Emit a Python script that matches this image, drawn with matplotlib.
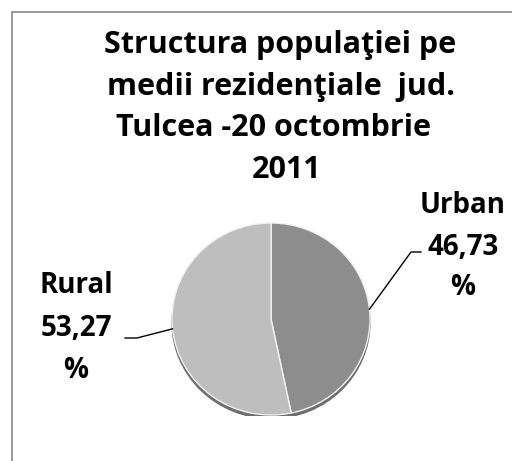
import matplotlib
matplotlib.use("Agg")
import matplotlib.pyplot as plt
from matplotlib.patches import Ellipse, Rectangle
import numpy as np

categories = ["Urban", "Rural"]
values = [46.73, 53.27]
value_labels = ["46,73", "53,27"]
title_lines = ["Structura populaţiei pe", "medii rezidenţiale  jud.",
               "Tulcea -20 octombrie", "2011"]
colors = ["#8d8d8d", "#bebebe"]

W, H = 512, 461
fig = plt.figure(figsize=(W / 100, H / 100), dpi=100)
fig.patch.set_facecolor("white")

def fx(x):
    return x / W

def fy(y):
    return 1 - y / H

FONT = ["Open Sans", "DejaVu Sans"]
FS_TITLE = 22
FS_LABEL = 20

# chart border (left/top visible, extends beyond the picture)
fig.patches.append(Rectangle((fx(11.5), fy(600)), fx(700), (600 - 12.5) / H,
                             transform=fig.transFigure, fill=False,
                             edgecolor="#8a8a8a", linewidth=1.2))

# title
title_x = [280, 281, 274, 287]
title_base = [53, 95, 136, 178]
for line, x, y in zip(title_lines, title_x, title_base):
    fig.text(fx(x), fy(y), line, ha="center", va="baseline",
             fontsize=FS_TITLE, fontweight="bold", family=FONT, color="black")

# pie axes: center (271, 319), x radius 99 px, y radius 96 px
cx, cy = 271, 319
aw, ah = 200, 194
ax = fig.add_axes([fx(cx - aw / 2), fy(cy + ah / 2), aw / W, ah / H])
R = 99

ax.add_patch(Ellipse((0, -3.5), 2 * R, 2 * R, color="#6e6e6e", zorder=0))
wedges, _ = ax.pie(values, colors=colors, startangle=90, counterclock=False,
                   radius=R, center=(0, 0),
                   wedgeprops=dict(edgecolor="#f2f2f2", linewidth=1.0))
for w in wedges:
    w.set_zorder(1)
ax.set_xlim(-100, 100)
ax.set_ylim(-100, 100)
ax.set_aspect("auto")
ax.axis("off")

# labels & leader lines
label_pos = {"Urban": (463, [213, 255, 295]), "Rural": (76, [293, 336, 378])}
elbow = {"Urban": ((411, 252), (421, 252)), "Rural": ((137, 338), (125, 338))}
for w, cat, vl in zip(wedges, categories, value_labels):
    lx, bases = label_pos[cat]
    for txt, b in zip([cat, vl, "%"], bases):
        fig.text(fx(lx), fy(b), txt, ha="center", va="baseline",
                 fontsize=FS_LABEL, fontweight="bold", family=FONT,
                 color="black")
    ang = np.deg2rad((w.theta1 + w.theta2) / 2)
    ex, ey = R * np.cos(ang), R * np.sin(ang)
    px = cx + ex * (aw / 200)
    py = cy - ey * (ah / 200)
    (mx, my), (tx, ty) = elbow[cat]
    fig.lines.append(plt.Line2D([fx(px), fx(mx), fx(tx)],
                                [fy(py), fy(my), fy(ty)],
                                transform=fig.transFigure, color="black",
                                linewidth=1.0))

fig.savefig("out.png", dpi=100, facecolor="white")
